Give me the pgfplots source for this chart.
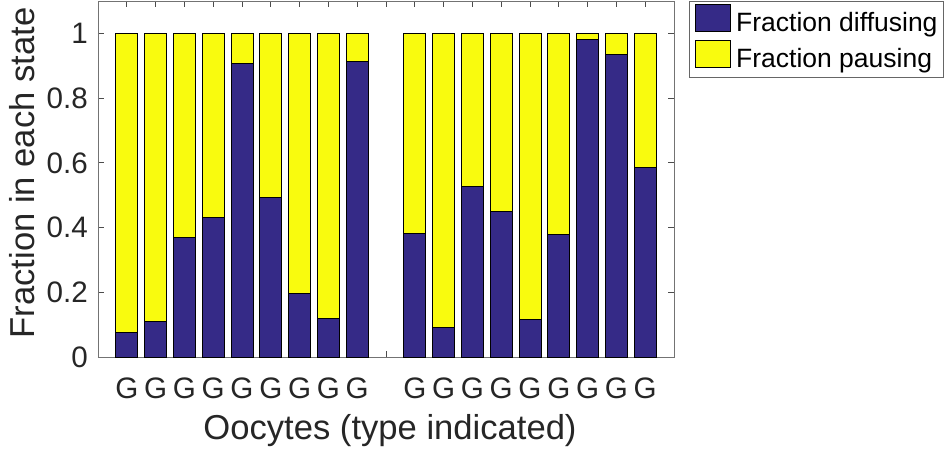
\documentclass[border=0pt]{standalone}
\usepackage{pgfplots}
\pgfplotsset{compat=1.18}
\usepackage{fontspec}
\setmainfont{Liberation Sans}
\definecolor{parblue}{RGB}{53,42,135}
\definecolor{paryel}{RGB}{249,251,14}
\definecolor{txtgray}{RGB}{38,38,38}
\begin{document}
\begin{tikzpicture}
\useasboundingbox (-98pt,-95pt) rectangle (850pt,357pt);
\begin{axis}[
  scale only axis, width=576pt, height=356pt,
  xmin=0, xmax=20, ymin=0, ymax=1.1,
  ybar stacked, bar width=0.76,
  xtick={1,...,19},
  xticklabels={G,G,G,G,G,G,G,G,G,,G,G,G,G,G,G,G,G,G},
  ytick={0,0.2,0.4,0.6,0.8,1},
  yticklabels={0,0.2,0.4,0.6,0.8,1},
  tick align=inside, major tick length=6pt,
  axis line style={draw=black!55, line width=0.8pt},
  every tick/.style={draw=black!70, line width=0.8pt},
  tick label style={font=\fontsize{29.6pt}{30pt}\selectfont, text=txtgray, inner sep=0pt},
  xticklabel style={anchor=base, yshift=-41pt},
  yticklabel style={anchor=east, xshift=-10pt},
  xlabel={Oocytes (type indicated)},
  ylabel={Fraction in each state},
  every axis x label/.style={at={(rel axis cs:0.507,-0.2331)}, anchor=base,
    font=\fontsize{34.6pt}{35pt}\selectfont, text=txtgray, inner sep=0pt},
  every axis y label/.style={at={(rel axis cs:-0.1111,0.517)}, rotate=90, anchor=base,
    font=\fontsize{34.6pt}{35pt}\selectfont, text=txtgray, inner sep=0pt},
  legend style={at={(1.026,1)}, anchor=north west, draw=black!60, line width=0.8pt,
    font=\fontsize{26.5pt}{27pt}\selectfont, text=black,
    inner xsep=6pt, inner ysep=2.5pt, row sep=2pt, column sep=5pt,
    nodes={inner sep=0pt, text height=20pt, text depth=7pt}},
  legend cell align=left,
]
\addplot[fill=parblue, draw=black, line width=0.8pt,
  legend image code/.code={\draw[fill=parblue, draw=black, line width=0.8pt] (0pt,-6.5pt) rectangle (35pt,20.5pt);}]
coordinates {(1,0.077) (2,0.111) (3,0.370) (4,0.430) (5,0.906) (6,0.494) (7,0.195) (8,0.118) (9,0.912) (10,0)
 (11,0.383) (12,0.090) (13,0.527) (14,0.450) (15,0.117) (16,0.378) (17,0.982) (18,0.934) (19,0.585)};
\addlegendentry{Fraction diffusing}
\addplot[fill=paryel, draw=black, line width=0.8pt,
  legend image code/.code={\draw[fill=paryel, draw=black, line width=0.8pt] (0pt,-6.5pt) rectangle (35pt,20.5pt);}]
coordinates {(1,0.923) (2,0.889) (3,0.630) (4,0.570) (5,0.094) (6,0.506) (7,0.805) (8,0.882) (9,0.088) (10,0)
 (11,0.617) (12,0.910) (13,0.473) (14,0.550) (15,0.883) (16,0.622) (17,0.018) (18,0.066) (19,0.415)};
\addlegendentry{Fraction pausing}
\end{axis}
\end{tikzpicture}
\end{document}
